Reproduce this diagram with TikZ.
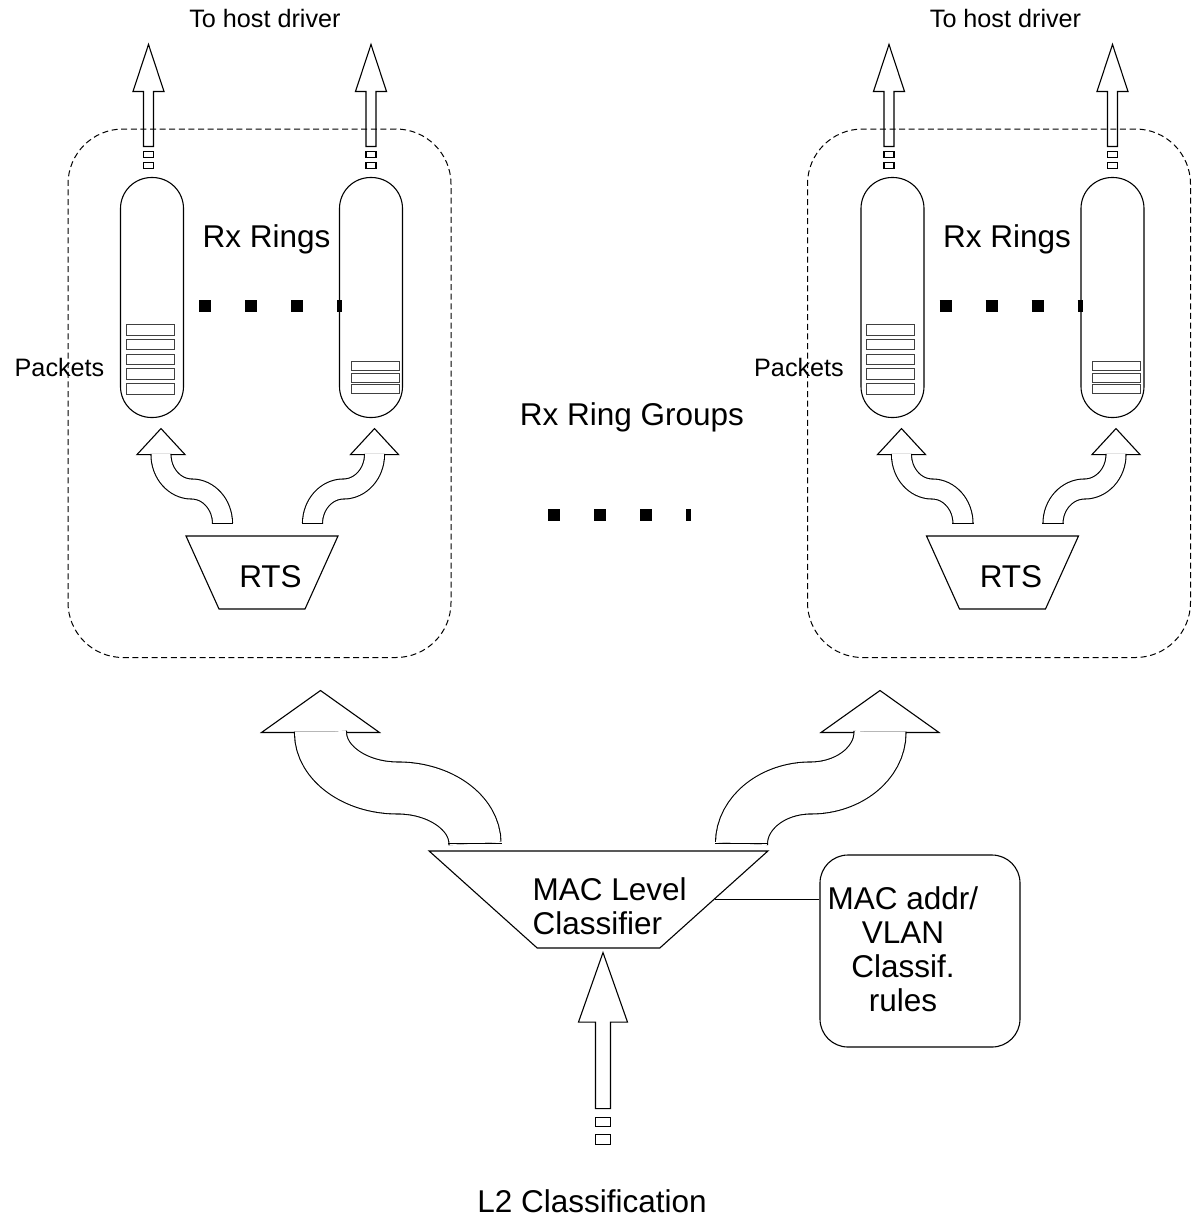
\documentclass[tikz,border=0pt]{standalone}
\usepackage{fontspec}
\setmainfont{Liberation Sans}
\usetikzlibrary{shapes.geometric, calc}

\begin{document}
\begin{tikzpicture}[
  x=0.5pt, y=-0.5pt,
  line width=0.55pt,
  txt/.style={inner sep=0pt, font=\fontsize{15.75}{17}\selectfont},
  smalltxt/.style={inner sep=0pt, font=\fontsize{12.6}{14}\selectfont},
  grpbox/.style={rectangle, draw, dash pattern=on 3pt off 1.8pt, line width=0.5pt, rounded corners=27.5pt, minimum width=191.5pt, minimum height=264.25pt, inner sep=0pt},
  ringbox/.style={rectangle, draw, fill=white, rounded corners=15.5pt, minimum width=31.5pt, minimum height=120pt, inner sep=0pt},
  pkt/.style={draw=black!75, line width=0.5pt},
  ellip/.style={line width=6pt, dash pattern=on 6pt off 17pt},
  rtsbox/.style={trapezium, draw, shape border rotate=180, trapezium stretches=true, trapezium left angle=69, trapezium right angle=69, minimum width=76pt, minimum height=36.5pt, inner sep=2pt},
  macbox/.style={trapezium, draw, shape border rotate=180, trapezium stretches=true, trapezium left angle=48.6, trapezium right angle=48.6, minimum width=169.5pt, minimum height=48.5pt, inner sep=2pt},
  rulesbox/.style={rectangle, draw, rounded corners=14pt, minimum width=100pt, minimum height=96pt, inner sep=0pt},
]
\useasboundingbox (0,0) rectangle (1191,1223);

% ring groups
\node[grpbox] (grpA) at (259.5,393.25) {};
\node[grpbox] (grpB) at (999,393.25) {};

% rx rings
\node[ringbox] (ringA1) at (152,297.5) {};
\node[ringbox] (ringA2) at (371,297.5) {};
\node[ringbox] (ringB1) at (892.5,297.5) {};
\node[ringbox] (ringB2) at (1112.5,297.5) {};

% packets and dots
\foreach \g in {A,B} {
  \foreach \i in {0,...,4}
    \draw[pkt] ($(ring\g1.south)+(-26,-93.5+14.8*\i)$) rectangle ++(48,10.5);
  \foreach \i in {0,1,2}
    \draw[pkt] ($(ring\g2.south)+(-20,-56.5+11.5*\i)$) rectangle ++(48,9);
  \draw[ellip] ($(ring\g1.east)+(15,8.5)$) -- ($(ring\g2.west)+(3,8.5)$);
}
\draw[ellip] (548,515) -- (691,515);

% arrows to host driver
\foreach \r/\dx in {ringA1/-3.5, ringA2/0, ringB1/-3.5, ringB2/0} {
  \draw ($(\r.north)+(\dx-5,-30.5)$) -- ++(0,-55) -- ++(-10.5,0) -- ++(15.5,-47)
        -- ++(15.5,47) -- ++(-10.5,0) -- ++(0,55) -- cycle;
  \draw ($(\r.north)+(\dx-5,-25.5)$) rectangle ++(10,6);
  \draw ($(\r.north)+(\dx-5,-14.5)$) rectangle ++(10,6);
}

% classifiers
\node[rtsbox] (rtsA) at (262,572.5) {};
\node[rtsbox] (rtsB) at (1002.5,572.5) {};
\node[macbox] (mac) at (598.5,899.5) {};
\node[rulesbox] (rules) at (920,951) {};
\draw (mac.east) -- (mac.east -| rules.west);

% bent arrows
\coordinate (sA1) at ($(rtsA.north)+(-39.5,-12)$);
\coordinate (eA1) at ($(ringA1.south)+(9,36.5)$);
\coordinate (sA2) at ($(rtsA.north)+(50.5,-12)$);
\coordinate (eA2) at ($(ringA2.south)+(3.5,36.5)$);
\coordinate (sB1) at ($(rtsB.north)+(-39.5,-12)$);
\coordinate (eB1) at ($(ringB1.south)+(9,36.5)$);
\coordinate (sB2) at ($(rtsB.north)+(50.5,-12)$);
\coordinate (eB2) at ($(ringB2.south)+(3.5,36.5)$);
\coordinate (sL) at ($(mac.north)+(-123.5,-7)$);
\coordinate (eL) at ($(grpA.south)+(61,74.5)$);
\coordinate (sR) at ($(mac.north)+(143,-7)$);
\coordinate (eR) at ($(grpB.south)+(-119,74.5)$);
\foreach \s/\e/\hs/\dd/\hw/\hl in {sA1/eA1/10/9.45/24/26, sA2/eA2/10/9.45/24/26,
    sB1/eB1/10/9.45/24/26, sB2/eB2/10/9.45/24/26, sL/eL/26/25.45/59/42, sR/eR/26/25.45/59/42} {
  \coordinate (m) at ($(\s)!.5!(\e)$);
  \draw[fill=white] ($(\e)+(-\hw,0)$) -- ($(\e)+(0,-\hl)$) -- ($(\e)+(\hw,0)$) -- cycle;
  \draw[double, double distance=\dd pt] (\s)
    .. controls ($(\s)!.55!(\s |- m)$) and ($(m)!.55!(\s |- m)$) .. (m)
    .. controls ($(m)!.55!(\e |- m)$) and ($(\e)!.55!(\e |- m)$) .. (\e) -- ++(0,-0.8);
  \draw[line cap=rect] ($(\s)+(-\hs,0)$) -- ($(\s)+(\hs,0)$);
}

% input arrow
\draw ($(mac.south)+(4.5,4)$) -- ++(24.5,69.5) -- ++(-17,0) -- ++(0,86.5) -- ++(-15,0)
      -- ++(0,-86.5) -- ++(-17,0) -- cycle;
\draw ($(mac.south)+(-3,169)$) rectangle ++(15,9);
\draw ($(mac.south)+(-3,186)$) rectangle ++(15,10);

% labels
\node[smalltxt, anchor=base] (hostA) at (265,27) {To host driver};
\node[smalltxt, anchor=base] (hostB) at (1005.5,27) {To host driver};
\node[txt, anchor=base] (rxA) at (266.5,247) {Rx Rings};
\node[txt, anchor=base] (rxB) at (1007,247) {Rx Rings};
\node[smalltxt, anchor=base] (pktA) at (59.5,376) {Packets};
\node[smalltxt, anchor=base] (pktB) at (799,376) {Packets};
\node[txt, anchor=base] (groups) at (632,425) {Rx Ring Groups};
\node[txt, anchor=base] (rtsTxtA) at (270.5,587) {RTS};
\node[txt, anchor=base] (rtsTxtB) at (1011,587) {RTS};
\node[txt, align=left, anchor=west] (macTxt) at (532,906) {MAC Level\\Classifier};
\node[txt, align=center] (rulesTxt) at (903,949) {MAC addr/\\VLAN\\Classif.\\rules};
\node[txt, anchor=base] (l2) at (592,1212) {L2 Classification};
\end{tikzpicture}
\end{document}
